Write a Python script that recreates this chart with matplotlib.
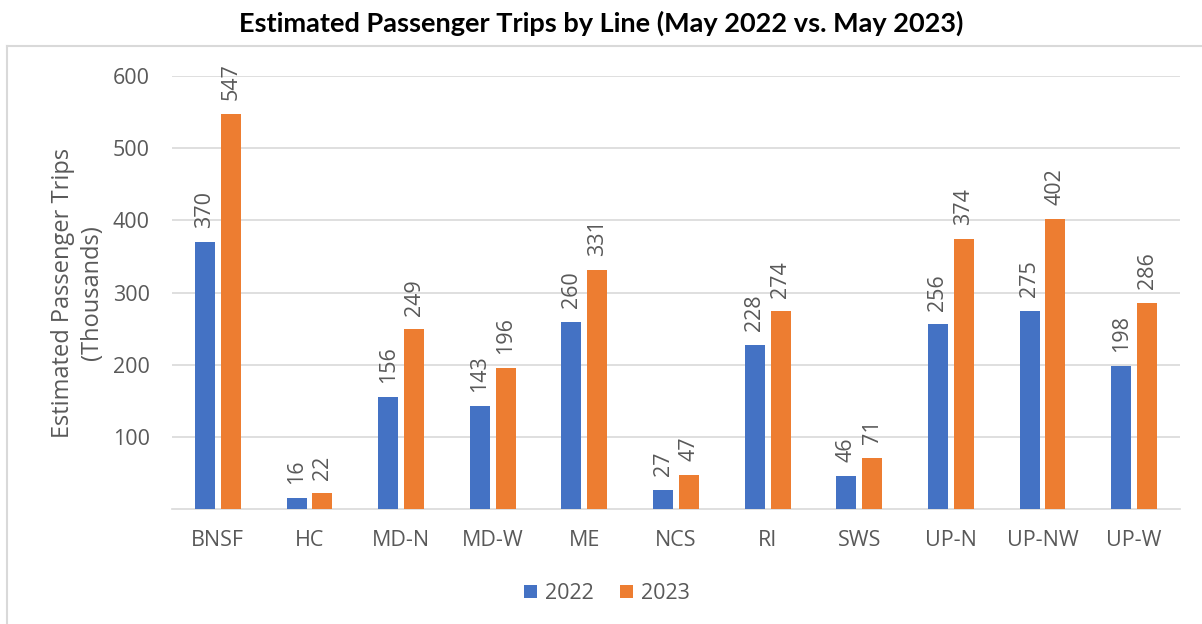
import matplotlib
matplotlib.use("Agg")
import matplotlib.pyplot as plt
from matplotlib.lines import Line2D
import numpy as np

# data
lines = ["BNSF", "HC", "MD-N", "MD-W", "ME", "NCS", "RI", "SWS", "UP-N", "UP-NW", "UP-W"]
trips_2022 = [370, 16, 156, 143, 260, 27, 228, 46, 256, 275, 198]
trips_2023 = [547, 22, 249, 196, 331, 47, 274, 71, 374, 402, 286]
y_ticks = [100, 200, 300, 400, 500, 600]

blue = "#4472C4"
orange = "#ED7D31"
grey_text = "#595959"
grid_col = "#D9D9D9"

plt.rcParams["font.family"] = ["Open Sans", "DejaVu Sans"]

fig = plt.figure(figsize=(12.02, 6.24), dpi=100)
ax = fig.add_axes([0.1431, 0.1838, 0.8386, 0.6944])

x = np.arange(len(lines))
w = 0.218
off = 0.141
b1 = ax.bar(x - off, trips_2022, w, color=blue, label="2022", zorder=3)
b2 = ax.bar(x + off, trips_2023, w, color=orange, label="2023", zorder=3)

# value labels, rotated like the original
for bars, vals in [(b1, trips_2022), (b2, trips_2023)]:
    for rect, v in zip(bars, vals):
        ax.annotate(str(v), (rect.get_x() + rect.get_width() / 2, v),
                    xytext=(0, 10), textcoords="offset points",
                    rotation=90, ha="center", va="bottom",
                    fontsize=15.5, color=grey_text)

ax.set_xlim(-0.5, len(lines) - 0.5)
ax.set_ylim(0, 600)
ax.set_yticks(y_ticks)
ax.set_xticks(x)
ax.set_xticklabels(lines)
ax.tick_params(axis="both", length=0, labelsize=15.5, colors=grey_text)
ax.tick_params(axis="y", pad=16)
ax.tick_params(axis="x", pad=15)
ax.grid(axis="y", color=grid_col, linewidth=1.2, zorder=0)
for s in ["top", "right", "left"]:
    ax.spines[s].set_visible(False)
ax.spines["bottom"].set_color(grid_col)
ax.spines["bottom"].set_linewidth(1.2)

ax.set_ylabel("Estimated Passenger Trips\n(Thousands)", fontsize=17,
              color=grey_text, labelpad=6, linespacing=1.3)

fig.text(0.5, 0.962, "Estimated Passenger Trips by Line (May 2022 vs. May 2023)",
         ha="center", va="center", fontsize=19.5, fontweight="bold",
         family=["Lato", "DejaVu Sans"], color="black")

leg = fig.legend(handles=[b1, b2], labels=["2022", "2023"], loc="center",
                 bbox_to_anchor=(0.505, 0.049), ncol=2, frameon=False,
                 fontsize=15.5, handlelength=0.6, handleheight=0.6,
                 handletextpad=0.4, columnspacing=1.2)
for t in leg.get_texts():
    t.set_color(grey_text)

# outer chart border (cropped on right and bottom)
fx0 = 7 / 1202
fy0 = 1 - 46 / 624
fig.add_artist(Line2D([fx0, fx0], [0, fy0], transform=fig.transFigure,
                      color=grid_col, linewidth=1.5))
fig.add_artist(Line2D([fx0, 1], [fy0, fy0], transform=fig.transFigure,
                      color=grid_col, linewidth=1.5))

fig.savefig("out.png", dpi=100)
